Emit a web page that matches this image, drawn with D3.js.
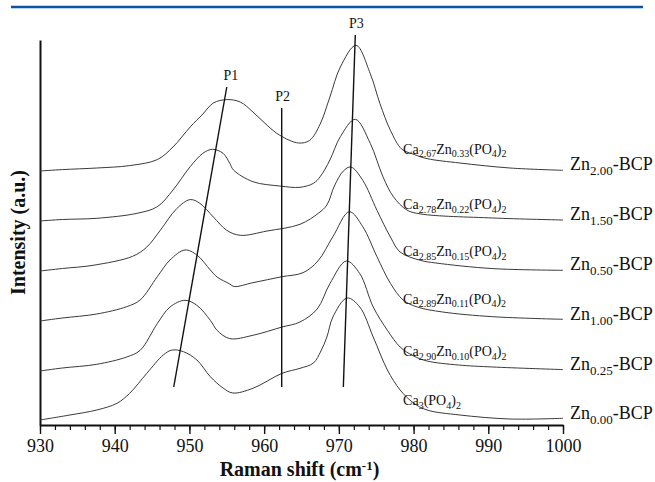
<!DOCTYPE html>
<html>
<head>
<meta charset="utf-8">
<script src="https://cdn.jsdelivr.net/npm/d3@7"></script>
<style>
  body { margin: 0; background: #fff; }
  svg text { font-family: "Liberation Serif", "Times New Roman", serif; fill: #111; }
</style>
</head>
<body>
<svg id="chart" width="655" height="482" font-family="Liberation Serif, serif"></svg>
<script>
// spectra: [Raman shift (cm-1), intensity above own baseline]
const zn000 = [[930,0],[934,5],[937.6,10],[940.3,16.7],[942,26.7],[944.3,46.7],[946.5,65],[947.7,70],[949.2,68.3],[951,60],[952.8,43.3],[954.5,32],[955.8,27],[958.5,31.7],[962.4,46.7],[964.8,51.7],[966.6,57],[967.6,69],[968.4,83],[969.2,103],[971.1,122],[972.8,113],[974.6,83],[976.5,50],[978.2,30],[980,17],[981.8,10],[986.2,5],[992.9,1],[1000,1.7]];
const zn025 = [[930,0],[933,3],[937.6,6.7],[941.6,14],[943.4,20.7],[945.7,47.4],[947.4,64],[949.4,70.7],[951,65.7],[952.8,50.7],[953.7,40.7],[955.4,32.4],[958.5,35.7],[962.4,44],[964.8,49],[967.1,62],[968.8,87.4],[971,110],[972.8,97.4],[974.6,64],[976.5,40.7],[978.2,24],[980,15],[981.8,10],[986,6],[990.6,4],[1000,1.4]];
const zn100 = [[930,0],[933,3],[937.6,7],[941.6,14.3],[943.4,21],[945.7,44.3],[947.4,61],[949.4,71],[951,66],[952.8,51],[953.7,44],[955.4,37],[956,34.5],[958.5,38.3],[962.4,44.3],[965.2,48.3],[967.2,60],[969.2,84.3],[971.4,109.3],[973.2,94.3],[975.1,64.3],[976.9,37.7],[978.6,21],[980.5,14],[983.9,9],[990.6,4.3],[1000,1.7]];
const zn050 = [[930,0],[933,2.5],[937.1,5.7],[942.4,14.7],[944.3,24],[946.1,40.7],[948.3,62.4],[950.1,71.4],[951.4,67.7],[953.2,54],[955,40.7],[956.8,35.7],[960.4,40],[964.8,46.7],[967.3,58],[968.4,66],[969.4,85],[970.6,100],[971.6,104],[973.2,90.7],[975.1,60.7],[976.9,34],[978.2,19],[980.9,10.7],[983,8],[990.6,2.4],[1000,0.7]];
const zn150 = [[930,0],[933,1.5],[937.6,2.7],[943,7.7],[945.7,14.3],[947.8,31],[950.1,54.3],[951.8,67.7],[953.1,71.7],[954.5,67.7],[955.4,57.7],[955.9,51],[958.5,39.3],[962.1,35],[964.8,33.7],[966.6,37.7],[967.5,44.3],[968.8,61],[970.2,84.3],[972.2,101.7],[974.2,77.7],[975.9,44.3],[977.3,24.3],[979.1,11],[981,7],[990.6,3],[1000,1]];
const zn200 = [[930,0],[933,1.4],[937.6,3],[942,5.4],[945.7,11.4],[947.8,24],[950.1,44],[951.8,57],[953.2,68],[955,71.4],[956.8,69],[958.5,59],[960.4,45.7],[962.1,35.7],[964.6,28],[966.1,30.7],[967.5,47],[968.8,74],[970.2,104],[972.3,125.7],[974.2,97.4],[975.5,67.4],[976.9,40.7],[978.4,22],[979.9,17],[981.8,12.4],[986.2,8],[992.9,3],[1000,0.7]];

const spectra = [zn000, zn025, zn100, zn050, zn150, zn200];
const offsets = [5, 54, 104, 154, 204, 254];
const sampleNames = ["Zn_{0.00}-BCP", "Zn_{0.25}-BCP", "Zn_{1.00}-BCP", "Zn_{0.50}-BCP", "Zn_{1.50}-BCP", "Zn_{2.00}-BCP"];
const phaseNames = ["Ca_{3}(PO_{4})_{2}", "Ca_{2.90}Zn_{0.10}(PO_{4})_{2}", "Ca_{2.89}Zn_{0.11}(PO_{4})_{2}",
  "Ca_{2.85}Zn_{0.15}(PO_{4})_{2}", "Ca_{2.78}Zn_{0.22}(PO_{4})_{2}", "Ca_{2.67}Zn_{0.33}(PO_{4})_{2}"];

// peak guide lines [shift, intensity] at bottom and top
const peakNames = ["P1", "P2", "P3"];
const peakBottom = [[947.9, 38], [962.35, 38], [970.6, 38]];
const peakTop = [[955.0, 338], [962.35, 317], [972.2, 390]];

const xTicks = d3.range(930, 1001, 10);
const xMinor = d3.range(930, 1001, 2);

var svg = d3.select("#chart");

var x = d3.scaleLinear().domain([930, 1000]).range([40, 563]);
var y = d3.scaleLinear().domain([0, 385]).range([425, 40]);

// blue rule on top
svg.append("line")
  .attr("x1", 11).attr("x2", 643)
  .attr("y1", 7).attr("y2", 7)
  .attr("stroke", "#0c56a5")
  .attr("stroke-width", 2.6);

// minor ticks
svg.append("g")
  .attr("transform", "translate(0," + y(0) + ")")
  .call(d3.axisBottom(x).tickValues(xMinor).tickSize(5).tickSizeOuter(0).tickFormat(""))
  .call(g => g.select(".domain").remove())
  .call(g => g.selectAll("line").attr("stroke", "#111").attr("stroke-width", 1.2));

// major ticks + domain
var xAxis = svg.append("g")
  .attr("transform", "translate(0," + y(0) + ")")
  .call(d3.axisBottom(x).tickValues(xTicks).tickSize(9).tickSizeOuter(0).tickPadding(5).tickFormat(d3.format("d")));
xAxis.attr("font-family", "Liberation Serif, serif");
xAxis.select(".domain").attr("stroke", "#111").attr("stroke-width", 2);
xAxis.selectAll("line").attr("stroke", "#111").attr("stroke-width", 1.4);
xAxis.selectAll("text")
  .style("font-size", "18px")
  .attr("fill", "#111");

// y axis: plain line
var yAxis = svg.append("g")
  .attr("transform", "translate(" + x(930) + ",0)")
  .call(d3.axisLeft(y).tickValues([]).tickSizeOuter(0));
yAxis.select(".domain").attr("stroke", "#111").attr("stroke-width", 2);

// spectra
var line = d3.line()
  .x(d => x(d[0]))
  .y(d => y(d[1]))
  .curve(d3.curveCatmullRom.alpha(0.5));

spectra.forEach((s, i) => {
  svg.append("path")
    .attr("d", line(s.map(d => [d[0], d[1] + offsets[i]])))
    .attr("fill", "none")
    .attr("stroke", "#3a3a3a")
    .attr("stroke-width", 1);
});

// guide lines
peakNames.forEach((p, i) => {
  svg.append("line")
    .attr("x1", x(peakBottom[i][0])).attr("y1", y(peakBottom[i][1]))
    .attr("x2", x(peakTop[i][0])).attr("y2", y(peakTop[i][1]))
    .attr("stroke", "#111")
    .attr("stroke-width", 1.4);
  svg.append("text")
    .attr("x", x(peakTop[i][0]) + (i == 0 ? 4 : 1))
    .attr("y", y(peakTop[i][1]) - 7)
    .attr("text-anchor", "middle")
    .style("font-size", "14px")
    .text(p);
});

// text with _{sub} parts
function richText(sel, str, size, subSize, shift) {
  var parts = str.split(/(_\{[^}]*\})/).filter(s => s.length);
  var low = false;
  parts.forEach(s => {
    var isSub = s.startsWith("_{");
    var t = sel.append("tspan").text(isSub ? s.slice(2, -1) : s);
    if (isSub) {
      t.style("font-size", subSize + "px");
      if (!low) t.attr("dy", shift);
      low = true;
    } else {
      t.style("font-size", size + "px");
      if (low) t.attr("dy", -shift);
      low = false;
    }
  });
}

function valueAt(s, w) {
  var i = d3.bisector(d => d[0]).left(s, w);
  var a = s[i - 1], b = s[i];
  return a[1] + (b[1] - a[1]) * (w - a[0]) / (b[0] - a[0]);
}

spectra.forEach((s, i) => {
  var t1 = svg.append("text")
    .attr("x", x(978.6))
    .attr("y", y(valueAt(s, 981.8) + offsets[i] + 5));
  richText(t1, phaseNames[i], 14, 10, 3.5);

  var t2 = svg.append("text")
    .attr("x", x(1000) + 7)
    .attr("y", y(offsets[i] + 1));
  richText(t2, sampleNames[i], 18, 13, 4.5);
});

// axis titles
svg.append("text")
  .attr("transform", "translate(25," + (y(0) + y(385)) / 2 + ") rotate(-90)")
  .attr("text-anchor", "middle")
  .style("font-size", "20px")
  .style("font-weight", "bold")
  .text("Intensity (a.u.)");

var xt = svg.append("text")
  .attr("x", (x(930) + x(1000)) / 2 - 2)
  .attr("y", 476)
  .attr("text-anchor", "middle")
  .style("font-size", "20px")
  .style("font-weight", "bold");
xt.append("tspan").text("Raman shift (cm");
xt.append("tspan").text("-1").style("font-size", "13px").attr("dy", -6);
xt.append("tspan").text(")").attr("dy", 6);
</script>
</body>
</html>
